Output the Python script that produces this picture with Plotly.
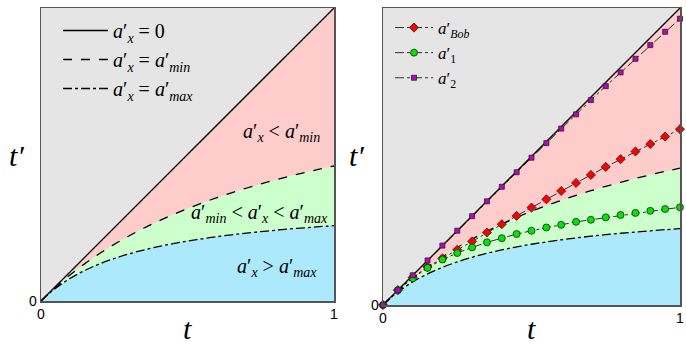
import plotly.graph_objects as go

# ---------------- data ----------------
t_curve = [0, 0.025, 0.05, 0.1, 0.15, 0.2, 0.25, 0.3, 0.35, 0.4, 0.45, 0.5,
           0.55, 0.6, 0.65, 0.7, 0.75, 0.8, 0.85, 0.9, 0.95, 1.0]
a_zero = [0, 0.025, 0.05, 0.1, 0.15, 0.2, 0.25, 0.3, 0.35, 0.4, 0.45, 0.5,
          0.55, 0.6, 0.65, 0.7, 0.75, 0.8, 0.85, 0.9, 0.95, 1.0]
a_min = [0, 0.0243, 0.0472, 0.0895, 0.1276, 0.162, 0.1934, 0.222, 0.2483, 0.2725,
         0.2948, 0.3155, 0.3347, 0.3525, 0.3692, 0.3848, 0.3995, 0.4132, 0.4262,
         0.4384, 0.4499, 0.4608]
a_max = [0, 0.0233, 0.0437, 0.0776, 0.1046, 0.1267, 0.1451, 0.1607, 0.174, 0.1855,
         0.1956, 0.2045, 0.2124, 0.2195, 0.2258, 0.2316, 0.2368, 0.2415, 0.2459,
         0.2499, 0.2536, 0.257]

t_pts = [0, 0.05, 0.1, 0.15, 0.2, 0.25, 0.3, 0.35, 0.4, 0.45, 0.5,
         0.55, 0.6, 0.65, 0.7, 0.75, 0.8, 0.85, 0.9, 0.95, 1.0]
a_bob = [0, 0.05, 0.093, 0.128, 0.157, 0.186, 0.214, 0.244, 0.272, 0.30, 0.328,
         0.356, 0.384, 0.411, 0.438, 0.465, 0.491, 0.517, 0.542, 0.567, 0.592]
a_1 = [0, 0.05, 0.09, 0.125, 0.153, 0.175, 0.194, 0.211, 0.225, 0.239, 0.25,
       0.261, 0.27, 0.28, 0.287, 0.295, 0.303, 0.31, 0.317, 0.323, 0.329]
a_2 = [0, 0.05, 0.1, 0.15, 0.2, 0.25, 0.299, 0.349, 0.398, 0.447, 0.496,
       0.545, 0.594, 0.642, 0.69, 0.737, 0.783, 0.829, 0.875, 0.92, 0.964]

tick_vals = [0, 1]
tick_text = ["0", "1"]

# ---------------- styles ----------------
C_BLUE = "#ade9fc"
C_GREEN = "#ccffcc"
C_PINK = "#ffcccc"
C_GRAY = "#e5e5e5"
SERIF = "Liberation Serif, Times New Roman, serif"
W, H = 686, 346


def A(sub):
    return "<i>a</i>′<sub><i>%s</i></sub>" % sub


fig = go.Figure()

for ax in ["", "2"]:
    xa, ya = "x" + ax, "y" + ax
    fig.add_trace(go.Scatter(x=t_curve, y=a_max, xaxis=xa, yaxis=ya, mode="lines",
                             line=dict(width=0, shape="spline"), fill="tozeroy",
                             fillcolor=C_BLUE, showlegend=False, hoverinfo="skip"))
    fig.add_trace(go.Scatter(x=t_curve, y=a_min, xaxis=xa, yaxis=ya, mode="lines",
                             line=dict(width=0, shape="spline"), fill="tonexty",
                             fillcolor=C_GREEN, showlegend=False, hoverinfo="skip"))
    fig.add_trace(go.Scatter(x=t_curve, y=a_zero, xaxis=xa, yaxis=ya, mode="lines",
                             line=dict(width=0), fill="tonexty",
                             fillcolor=C_PINK, showlegend=False, hoverinfo="skip"))
    leg = ax == ""
    fig.add_trace(go.Scatter(x=t_curve, y=a_zero, xaxis=xa, yaxis=ya, mode="lines",
                             line=dict(color="black", width=1.3),
                             name=A("x") + " = 0", showlegend=leg, legend="legend"))
    fig.add_trace(go.Scatter(x=t_curve, y=a_min, xaxis=xa, yaxis=ya, mode="lines",
                             line=dict(color="black", width=1.3, dash="dash", shape="spline"),
                             name=A("x") + " = " + A("min"), showlegend=leg, legend="legend"))
    fig.add_trace(go.Scatter(x=t_curve, y=a_max, xaxis=xa, yaxis=ya, mode="lines",
                             line=dict(color="black", width=1.3, dash="dashdot", shape="spline"),
                             name=A("x") + " = " + A("max"), showlegend=leg, legend="legend"))

series = [
    (a_bob, "<i>a</i>′<sub><i>Bob</i></sub>", "#ff0000", "diamond", 7),
    (a_1, "<i>a</i>′<sub>1</sub>", "#00e600", "circle", 7),
    (a_2, "<i>a</i>′<sub>2</sub>", "#c000c0", "square", 5),
]
for ys, name, col, sym, sz in series:
    fig.add_trace(go.Scatter(x=t_pts, y=ys, xaxis="x2", yaxis="y2", mode="lines+markers",
                             line=dict(color="black", width=0.8, dash="dashdot"),
                             marker=dict(color=col, symbol=sym, size=sz,
                                         line=dict(color="#222222", width=0.8)),
                             cliponaxis=False, name=name, legend="legend2"))

axis_common = dict(range=[0, 1], showgrid=False, zeroline=False, showline=True,
                   linecolor="#555555", linewidth=1.5, mirror=True, ticks="",
                   automargin=False, fixedrange=True,
                   tickvals=tick_vals, ticktext=tick_text,
                   tickfont=dict(family="Liberation Sans", size=14, color="black"))

fig.update_layout(
    width=W, height=H,
    margin=dict(l=0, r=0, t=0, b=0, pad=0),
    paper_bgcolor="white", plot_bgcolor=C_GRAY,
    xaxis=dict(domain=[41 / W, 334 / W], anchor="y", **axis_common),
    yaxis=dict(domain=[(H - 301) / H, (H - 8) / H], anchor="x", **axis_common),
    xaxis2=dict(domain=[383 / W, 680 / W], anchor="y2", **axis_common),
    yaxis2=dict(domain=[(H - 305) / H, (H - 8) / H], anchor="x2", **axis_common),
    legend=dict(x=58 / W, y=(H - 11) / H, xref="paper", yref="paper", xanchor="left",
                yanchor="top", traceorder="normal",
                bgcolor="rgba(0,0,0,0)", font=dict(family=SERIF, size=20, color="black"),
                itemwidth=45, tracegroupgap=0),
    legend2=dict(x=390 / W, y=(H - 10) / H, xref="paper", yref="paper", xanchor="left",
                 yanchor="top", traceorder="normal",
                 bgcolor="rgba(0,0,0,0)", font=dict(family=SERIF, size=17, color="black"),
                 itemwidth=38, tracegroupgap=0),
    showlegend=True,
)

ann_font = dict(family=SERIF, size=20, color="black")
fig.add_annotation(x=0.82, y=0.575, xref="x", yref="y", text=A("x") + " < " + A("min"),
                   showarrow=False, font=ann_font)
fig.add_annotation(x=0.745, y=0.30, xref="x", yref="y",
                   text=A("min") + " < " + A("x") + " < " + A("max"),
                   showarrow=False, font=ann_font)
fig.add_annotation(x=0.805, y=0.113, xref="x", yref="y", text=A("x") + " > " + A("max"),
                   showarrow=False, font=ann_font)

title_font = dict(family=SERIF, size=30, color="black")
for tx, ty, txt in [(187, 328, "<i>t</i>"), (531, 328, "<i>t</i>"),
                    (16, 155, "<i>t′</i>"), (356, 155, "<i>t′</i>")]:
    fig.add_annotation(x=tx / W, y=(H - ty) / H, xref="paper", yref="paper",
                       xanchor="center", yanchor="middle",
                       text=txt, showarrow=False, font=title_font)

fig.write_html("out.html", config={"displayModeBar": False, "staticPlot": True},
               post_script="document.body.style.margin='0px';"
               "document.body.style.overflow='hidden';")
